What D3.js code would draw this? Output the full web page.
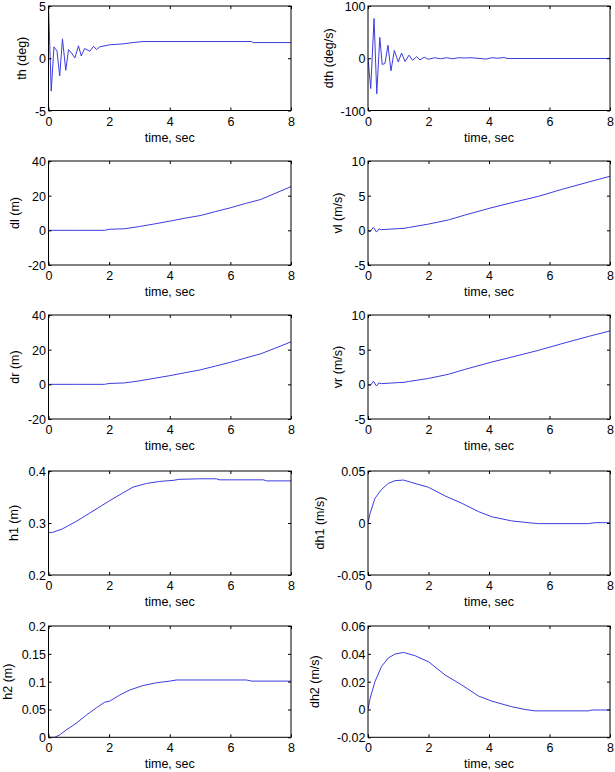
<!DOCTYPE html>
<html><head><meta charset="utf-8">
<script src="https://cdn.jsdelivr.net/npm/d3@7"></script>
<style>
html,body{margin:0;padding:0;background:#fff;}
text{font-family:"Liberation Sans",Arial,Helvetica,sans-serif;font-size:12.5px;fill:#000;}
</style></head>
<body>
<svg id="chart" width="615" height="772"></svg>
<script>
// ---------- data (time in s, value) ----------
const xTicks = [0, 2, 4, 6, 8];
const xLabel = "time, sec";

const thData = [[0,5],[0.09,-3.14],[0.18,1.09],[0.28,0.7],[0.37,-1.7],[0.46,1.86],[0.57,-1.15],[0.66,0.83],[0.76,0.5],[0.87,0.03],[0.99,1.19],[1.08,0.22],[1.19,0.93],[1.36,0.67],[1.49,1.15],[1.58,0.83],[1.69,1.09],[2.0,1.28],[2.46,1.38],[2.79,1.5],[3.12,1.6],[6.7,1.6],[6.75,1.5],[8,1.5]];
const dthData = [[0,0],[0.09,-58],[0.2,76],[0.29,-68],[0.39,40],[0.47,-12],[0.56,-10],[0.66,25],[0.76,-24],[0.87,15],[1.0,-7],[1.11,10],[1.22,-6],[1.36,6],[1.47,-4],[1.61,3],[1.72,-3],[1.86,2],[2.0,-2],[2.2,1],[2.4,-1],[2.6,1],[2.8,-1],[3.0,1],[3.2,0.5],[3.4,1],[3.6,0],[3.9,-1.5],[4.1,1],[4.3,0],[4.5,1.5],[4.6,-0.5],[7.9,-0.5],[8,0]];
const dlData = [[0,0],[1,0],[1.85,0],[2,0.6],[2.5,0.9],[3,2.2],[3.5,3.7],[4,5.3],[4.5,7],[5,8.5],[5.5,10.8],[6,13],[6.5,15.5],[7,17.8],[7.5,21.5],[8,25.2]];
const vlData = [[0,0],[0.07,-0.2],[0.18,0.45],[0.28,-0.25],[0.36,0.2],[0.45,0.1],[1.0,0.25],[1.22,0.3],[1.33,0.4],[2.0,0.9],[2.66,1.5],[3.2,2.2],[4.03,3.2],[4.86,4.1],[5.63,4.9],[6.4,5.9],[7.28,6.95],[8,7.8]];
const drData = [[0,0],[1,0],[1.85,0],[2,0.5],[2.5,0.8],[3,2.0],[3.5,3.5],[4,5.0],[4.5,6.7],[5,8.3],[5.5,10.5],[6,12.7],[6.5,15.2],[7,17.6],[7.5,21],[8,24.5]];
const vrData = [[0,0],[0.07,-0.2],[0.18,0.45],[0.28,-0.25],[0.36,0.2],[0.45,0.1],[1.0,0.25],[1.22,0.3],[1.33,0.4],[2.0,0.85],[2.66,1.45],[3.2,2.15],[4.03,3.15],[4.86,4.05],[5.63,4.9],[6.4,5.85],[7.28,6.9],[8,7.7]];
const h1Data = [[0,0.2814],[0.14,0.282],[0.47,0.289],[0.91,0.303],[1.36,0.319],[1.69,0.331],[2.02,0.343],[2.46,0.358],[2.79,0.369],[3.23,0.376],[3.67,0.38],[4.11,0.382],[4.33,0.384],[4.99,0.385],[5.54,0.385],[5.65,0.383],[7.09,0.383],[7.2,0.381],[8,0.381]];
const dh1Data = [[0,0],[0.07,0.0093],[0.23,0.0237],[0.45,0.0324],[0.67,0.0381],[0.89,0.0407],[1.17,0.0413],[1.44,0.039],[2.0,0.0343],[2.55,0.026],[3.1,0.019],[3.65,0.011],[4.09,0.006],[4.75,0.002],[5.41,0],[5.63,-0.0006],[7.28,-0.0006],[7.5,0.0003],[8,0.0003]];
const h2Data = [[0,0],[0.2,0],[0.36,0.004],[0.58,0.013],[0.91,0.025],[1.25,0.04],[1.58,0.053],[1.85,0.063],[2.02,0.065],[2.35,0.076],[2.68,0.085],[3.12,0.093],[3.56,0.098],[4.0,0.101],[4.22,0.103],[6.53,0.103],[6.7,0.101],[8,0.101]];
const dh2Data = [[0,0],[0.07,0.008],[0.23,0.02],[0.45,0.031],[0.67,0.037],[0.89,0.0398],[1.17,0.041],[1.55,0.0387],[2.0,0.0343],[2.55,0.0248],[3.1,0.0176],[3.65,0.0097],[4.09,0.006],[4.75,0.002],[5.19,0],[5.52,-0.001],[7.28,-0.001],[7.4,-0.0004],[8,-0.0004]];

const yLabels = ["th (deg)","dth (deg/s)","dl (m)","vl (m/s)","dr (m)","vr (m/s)","h1 (m)","dh1 (m/s)","h2 (m)","dh2 (m/s)"];
const yTicksList = [[-5,0,5],[-100,0,100],[-20,0,20,40],[-5,0,5,10],[-20,0,20,40],[-5,0,5,10],[0.2,0.3,0.4],[-0.05,0,0.05],[0,0.05,0.1,0.15,0.2],[-0.02,0,0.02,0.04,0.06]];
const seriesList = [thData,dthData,dlData,vlData,drData,vrData,h1Data,dh1Data,h2Data,dh2Data];

// ---------- layout ----------
const colX = [[48.5,291],[368,610]];
const rowY = [[6,110.5],[161,265],[315,419],[471,575],[626,737.3]];
const yLabelX = [21.7,329,15,338,15,338,14,320,8,315];

const svg = d3.select("#chart");
const tickLen = 3;

seriesList.forEach((data, i) => {
  const r = Math.floor(i/2), c = i%2;
  const [x0,x1] = colX[c], [y0,y1] = rowY[r];
  const yt = yTicksList[i];
  const x = d3.scaleLinear().domain([0,8]).range([x0,x1]);
  const y = d3.scaleLinear().domain([yt[0], yt[yt.length-1]]).range([y1,y0]);
  const g = svg.append("g");

  // data line (clipped to axes)
  const clipId = "clip"+i;
  g.append("clipPath").attr("id",clipId).append("rect")
    .attr("x",x0).attr("y",y0).attr("width",x1-x0).attr("height",y1-y0);
  g.append("path").datum(data)
    .attr("clip-path",`url(#${clipId})`)
    .attr("fill","none").attr("stroke","#3c3ce0").attr("stroke-width",1)
    .attr("stroke-linejoin","round")
    .attr("d", d3.line().x(d=>x(d[0])).y(d=>y(d[1])));

  // axes with inward ticks
  const bottom = g.append("g").attr("transform",`translate(0,${y1})`)
    .call(d3.axisBottom(x).tickValues(xTicks).tickSize(-tickLen).tickPadding(5).tickFormat(d=>String(d)));
  const top = g.append("g").attr("transform",`translate(0,${y0})`)
    .call(d3.axisTop(x).tickValues(xTicks).tickSize(-tickLen).tickFormat(""));
  const left = g.append("g").attr("transform",`translate(${x0},0)`)
    .call(d3.axisLeft(y).tickValues(yt).tickSize(-tickLen).tickPadding(5).tickFormat(d=>String(d)));
  const right = g.append("g").attr("transform",`translate(${x1},0)`)
    .call(d3.axisRight(y).tickValues(yt).tickSize(-tickLen).tickFormat(""));
  [bottom,top,left,right].forEach(a=>{
    a.select(".domain").remove();
    a.selectAll("line").attr("stroke","#000").attr("stroke-width",1);
    a.selectAll("text").attr("font-size",null).attr("font-family",null).attr("fill","#000");
  });
  bottom.selectAll("text").attr("dy",null).attr("y",15).attr("dominant-baseline","alphabetic");
  left.selectAll("text").attr("x",-2.5).attr("dy","0.36em");

  // box
  g.append("rect").attr("x",x0).attr("y",y0).attr("width",x1-x0).attr("height",y1-y0)
    .attr("fill","none").attr("stroke","#000").attr("stroke-width",1);

  // labels
  g.append("text").attr("x",(x0+x1)/2).attr("y",y1+31).attr("text-anchor","middle").text(xLabel);
  g.append("text").attr("transform",`translate(${yLabelX[i]},${(y0+y1)/2}) rotate(-90)`)
    .attr("text-anchor","middle").attr("dy","0.35em").text(yLabels[i]);
});
</script>
</body></html>
